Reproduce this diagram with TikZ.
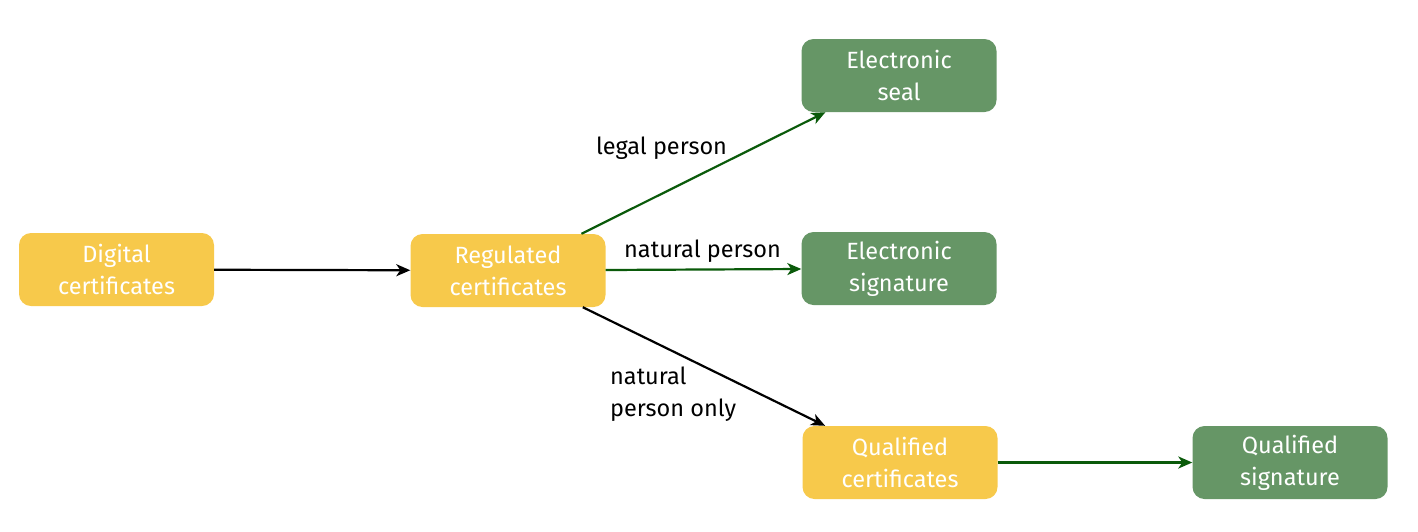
\documentclass[tikz,border=0pt]{standalone}
\usepackage{fontspec}
\setmainfont{Fira Sans}
\usetikzlibrary{arrows.meta}
\definecolor{boxyellow}{RGB}{247,201,75}
\definecolor{boxgreen}{RGB}{102,150,102}
\definecolor{arrgreen}{RGB}{10,90,10}
\begin{document}
\begin{tikzpicture}[x=1pt,y=-1pt,
  base/.style={rounded corners=12pt,minimum width=195pt,minimum height=73pt,inner sep=0pt,text=white,align=center,font=\fontsize{23.5}{32}\selectfont},
  ybox/.style={base,fill=boxyellow},
  gbox/.style={base,fill=boxgreen},
  blk/.style={draw=black,line width=2.2pt,-{Stealth[length=14pt,width=12pt,inset=4pt]}},
  grn/.style={draw=arrgreen,line width=2.2pt,-{Stealth[length=14pt,width=12pt,inset=4pt]}},
  lbl/.style={font=\fontsize{23.5}{32}\selectfont,text=black,inner sep=0pt,align=left}]
\useasboundingbox (0,0) rectangle (1418,531);
\node[ybox] (dig) at (116.5,269.5) {Digital\\certificates};
\node[ybox] (reg) at (508,270.5) {Regulated\\certificates};
\node[gbox] (seal) at (899,75.5) {Electronic\\seal};
\node[gbox] (esig) at (899,268.5) {Electronic\\signature};
\node[ybox] (qc) at (900,462.5) {Qualified\\certificates};
\node[gbox] (qs) at (1290,462.5) {Qualified\\signature};
\draw[blk] (dig) -- (reg);
\draw[grn] (reg) -- (seal);
\draw[grn] (reg) -- (esig);
\draw[blk] (reg) -- (qc);
\draw[grn] (qc) -- (qs);
\node[lbl] (l1) at (661.5,148) {legal person};
\node[lbl] (l2) at (702.5,251) {natural person};
\node[lbl,anchor=west] (l3) at (610,394) {natural\\person only};
\end{tikzpicture}
\end{document}
